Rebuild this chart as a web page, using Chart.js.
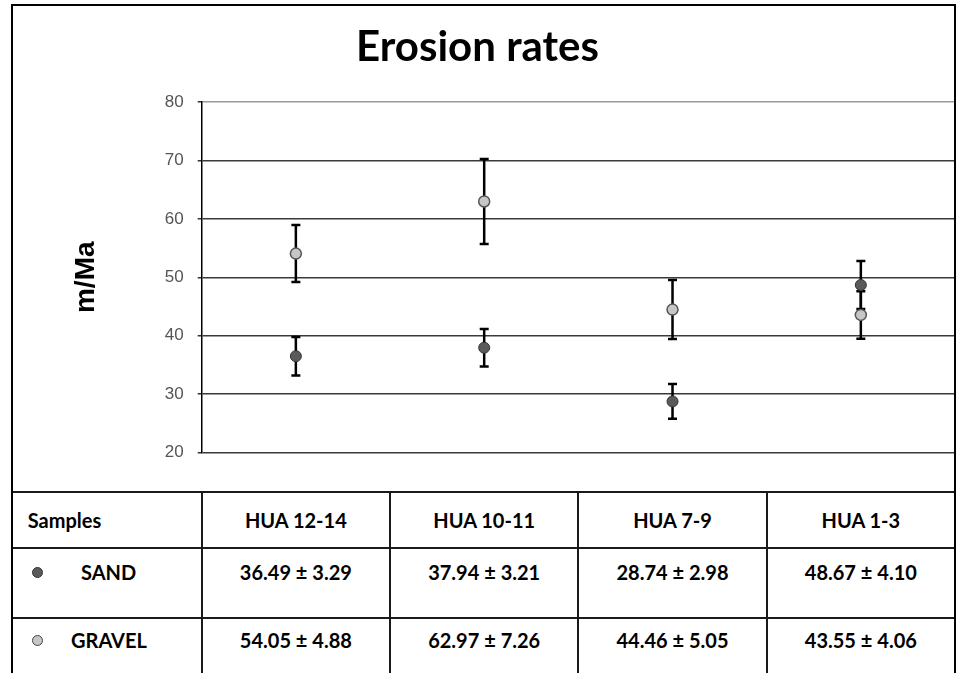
<!DOCTYPE html>
<html>
<head>
<meta charset="utf-8">
<script src="https://cdn.jsdelivr.net/npm/chart.js@4/dist/chart.umd.min.js"></script>
<style>
  html, body { margin: 0; padding: 0; background: #fff; }
  #wrap { position: relative; width: 961px; height: 673px; overflow: hidden; background: #fff; }
  #c { position: absolute; left: 0; top: 0; }
  #frame { position: absolute; left: 11px; top: 4px; width: 945px; height: 700px;
           border: 2px solid #000; border-bottom: none; pointer-events: none; box-sizing: border-box; }
  .hl, .vl { position: absolute; background: #1a1a1a; }
  .cell { position: absolute; font-family: Lato, "Open Sans", sans-serif; font-weight: bold;
          font-size: 20px; color: #000; white-space: nowrap; line-height: 24px; }
  .dot { position: absolute; width: 11px; height: 11px; border-radius: 50%; box-sizing: border-box; }
</style>
</head>
<body>
<div id="wrap">
  <canvas id="c" width="955" height="492"></canvas>
  <div id="table"></div>
  <div id="frame"></div>
</div>
<script>
// ---- data ----
const categories = ['HUA 12-14', 'HUA 10-11', 'HUA 7-9', 'HUA 1-3'];
const sandValues = [36.49, 37.94, 28.74, 48.67];
const sandErrors = [3.29, 3.21, 2.98, 4.10];
const gravelValues = [54.05, 62.97, 44.46, 43.55];
const gravelErrors = [4.88, 7.26, 5.05, 4.06];
const yTicks = [20, 30, 40, 50, 60, 70, 80];
const seriesNames = ['SAND', 'GRAVEL'];
const firstColumnTitle = 'Samples';
const chartTitle = 'Erosion rates';
const yTitle = 'm/Ma';

const errorBars = {
  id: 'errorBars',
  beforeDatasetsDraw(chart) {
    const ctx = chart.ctx;
    const y = chart.scales.y;
    ctx.save();
    ctx.strokeStyle = '#000';
    ctx.lineWidth = 2.5;
    chart.data.datasets.forEach((ds, di) => {
      const meta = chart.getDatasetMeta(di);
      meta.data.forEach((pt, i) => {
        const v = ds.data[i], e = ds.errors[i];
        const yt = y.getPixelForValue(v + e), yb = y.getPixelForValue(v - e);
        const x = pt.x, cap = 4.5;
        ctx.beginPath();
        ctx.moveTo(x, yt); ctx.lineTo(x, yb);
        ctx.moveTo(x - cap, yt); ctx.lineTo(x + cap, yt);
        ctx.moveTo(x - cap, yb); ctx.lineTo(x + cap, yb);
        ctx.stroke();
      });
    });
    ctx.restore();
  }
};

const chart = new Chart(document.getElementById('c'), {
  type: 'line',
  data: {
    labels: categories,
    datasets: [
      { label: seriesNames[0], data: sandValues, errors: sandErrors, showLine: false,
        pointRadius: 5.5, pointBackgroundColor: '#5a5a5a', pointBorderColor: '#333', pointBorderWidth: 1 },
      { label: seriesNames[1], data: gravelValues, errors: gravelErrors, showLine: false,
        pointRadius: 5.5, pointBackgroundColor: '#c6c6c6', pointBorderColor: '#555', pointBorderWidth: 1.5 }
    ]
  },
  options: {
    responsive: false,
    animation: false,
    devicePixelRatio: 1,
    layout: { padding: 0, autoPadding: false },
    plugins: {
      legend: { display: false },
      tooltip: { enabled: false },
      title: {
        display: true, text: chartTitle, color: '#000',
        font: { family: 'Lato', weight: 'bold', size: 42, lineHeight: 1.2 },
        padding: { top: 22, bottom: 29.6 }
      }
    },
    scales: {
      x: {
        offset: true,
        grid: { display: false },
        border: { display: false },
        ticks: { display: false },
        afterFit(s) { s.height = 39.5; }
      },
      y: {
        min: yTicks[0], max: yTicks[yTicks.length - 1],
        afterBuildTicks(s) { s.ticks = yTicks.map(v => ({ value: v })); },
        afterFit(s) { s.width = 201.7; },
        grid: {
          color: c => (c.tick && c.tick.value === 80) ? '#9a9a9a' : '#3a3a3a',
          tickColor: '#333',
          lineWidth: 1.5,
          tickLength: 4,
          drawTicks: true
        },
        border: { display: true, color: '#000', width: 1.5 },
        ticks: {
          color: '#555', padding: 14,
          font: { family: 'Liberation Sans', size: 17 }
        },
        title: {
          display: true, text: yTitle, color: '#000',
          font: { family: 'Liberation Sans', weight: 'bold', size: 28, lineHeight: 1.2 },
          padding: { top: 69.5, bottom: 0 }
        }
      }
    }
  },
  plugins: [errorBars]
});

// ---- data table built under the chart, aligned to the x scale ----
(function buildTable() {
  const t = document.getElementById('table');
  const xs = chart.scales.x;
  const area = chart.chartArea;
  const band = (area.right - area.left) / categories.length;
  const frameLeft = 12, top0 = 491.7, rowBounds = [491.7, 548.3, 617.7, 700];
  const colBounds = [frameLeft];
  for (let i = 0; i < categories.length; i++) colBounds.push(xs.getPixelForTick(i) - band / 2);
  colBounds.push(area.right);

  function line(cls, l, tp, w, h) {
    const d = document.createElement('div');
    d.className = cls;
    d.style.left = l + 'px'; d.style.top = tp + 'px';
    d.style.width = w + 'px'; d.style.height = h + 'px';
    t.appendChild(d);
  }
  for (let r = 0; r < 3; r++) line('hl', frameLeft, rowBounds[r] - 1, area.right - frameLeft, 2);
  for (let c = 1; c < colBounds.length - 1; c++) line('vl', colBounds[c] - 1, top0, 2, 700 - top0);

  function text(str, cx, cy, align) {
    const d = document.createElement('div');
    d.className = 'cell';
    d.textContent = str;
    t.appendChild(d);
    const w = d.getBoundingClientRect().width;
    d.style.left = (align === 'left' ? cx : cx - w / 2) + 'px';
    d.style.top = (cy - 12) + 'px';
  }
  function dot(cx, cy, fill, stroke) {
    const d = document.createElement('div');
    d.className = 'dot';
    d.style.left = (cx - 5.5) + 'px'; d.style.top = (cy - 5.5) + 'px';
    d.style.background = fill; d.style.border = '1.5px solid ' + stroke;
    t.appendChild(d);
  }
  const rowY = [520, 572, 640];
  text(firstColumnTitle, 27.7, rowY[0], 'left');
  text(seriesNames[0], 81, rowY[1], 'left');
  text(seriesNames[1], 71, rowY[2], 'left');
  dot(37, rowY[1], '#5a5a5a', '#333');
  dot(37, rowY[2], '#c6c6c6', '#444');
  categories.forEach((cat, i) => {
    const cx = xs.getPixelForTick(i);
    text(cat, cx, rowY[0]);
    text(sandValues[i].toFixed(2) + ' \u00B1 ' + sandErrors[i].toFixed(2), cx, rowY[1]);
    text(gravelValues[i].toFixed(2) + ' \u00B1 ' + gravelErrors[i].toFixed(2), cx, rowY[2]);
  });
})();
</script>
</body>
</html>
